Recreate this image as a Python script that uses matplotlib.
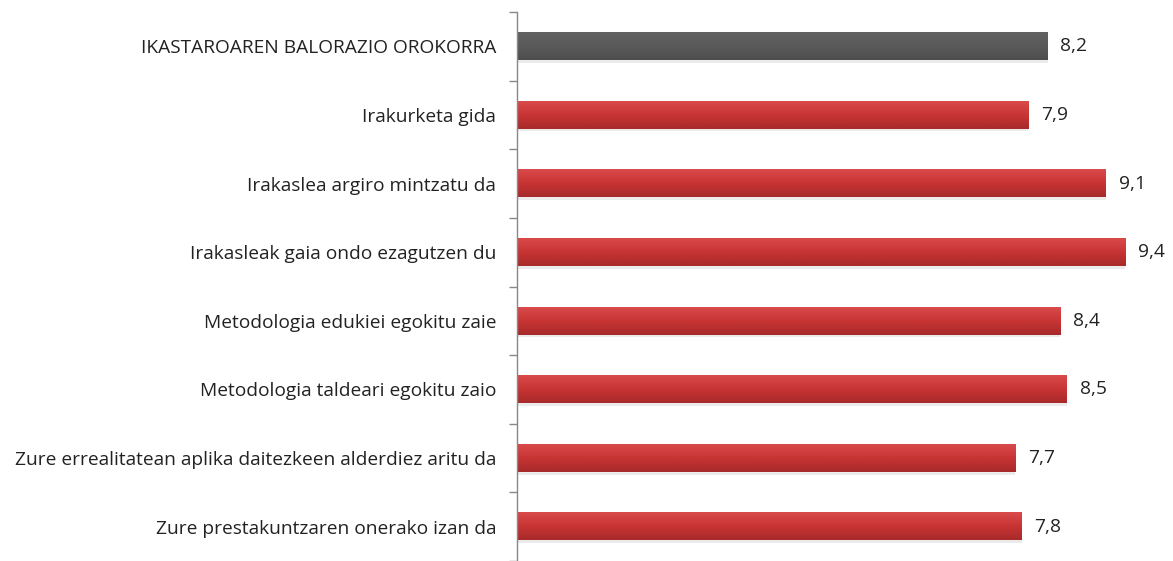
import matplotlib.pyplot as plt
import numpy as np
from matplotlib.colors import LinearSegmentedColormap

labels = [
    'IKASTAROAREN BALORAZIO OROKORRA',
    'Irakurketa gida',
    'Irakaslea argiro mintzatu da',
    'Irakasleak gaia ondo ezagutzen du',
    'Metodologia edukiei egokitu zaie',
    'Metodologia taldeari egokitu zaio',
    'Zure errealitatean aplika daitezkeen alderdiez aritu da',
    'Zure prestakuntzaren onerako izan da',
]
values = [8.2, 7.9, 9.1, 9.4, 8.4, 8.5, 7.7, 7.8]
value_text = ['8,2', '7,9', '9,1', '9,4', '8,4', '8,5', '7,7', '7,8']

plt.rcParams['font.family'] = ['Open Sans', 'DejaVu Sans']

fig = plt.figure(figsize=(11.73, 5.61), dpi=100)
ax = fig.add_axes([0.4408, 0.0, 0.5592, 0.9786])

red_cmap = LinearSegmentedColormap.from_list('red', ['#d94a4a', '#c83434', '#a82a2a'])
grey_cmap = LinearSegmentedColormap.from_list('grey', ['#626262', '#5a5a5a', '#4e4e4e'])

h = 0.4
y = np.arange(len(labels))
for i, (v, t) in enumerate(zip(values, value_text)):
    cmap = grey_cmap if i == 0 else red_cmap
    # soft shadow under each bar
    ax.barh(i + 0.04, v, height=h, color='#d8d8d8', alpha=0.5, zorder=1)
    grad = np.linspace(0, 1, 50).reshape(-1, 1)
    ax.imshow(grad, cmap=cmap, aspect='auto', zorder=2,
              extent=(0, v, i + h / 2, i - h / 2), interpolation='bilinear')
    ax.text(v + 0.2, i, t, va='center', ha='left', fontsize=13.8, color='#222222')

ax.set_xlim(0, 10.14)
ax.set_ylim(len(labels) - 0.5, -0.5)
ax.set_yticks(y)
ax.set_yticklabels(labels, fontsize=13.8, color='#222222')
ax.set_yticks(np.arange(-0.5, len(labels), 1.0), minor=True)
ax.tick_params(axis='y', which='major', length=0, pad=15)
ax.tick_params(axis='y', which='minor', length=6, color='#888888', width=1)
ax.set_xticks([])
for s in ['top', 'right', 'bottom']:
    ax.spines[s].set_visible(False)
ax.spines['left'].set_color('#888888')
ax.spines['left'].set_linewidth(1)

fig.savefig('out.png', dpi=100)
